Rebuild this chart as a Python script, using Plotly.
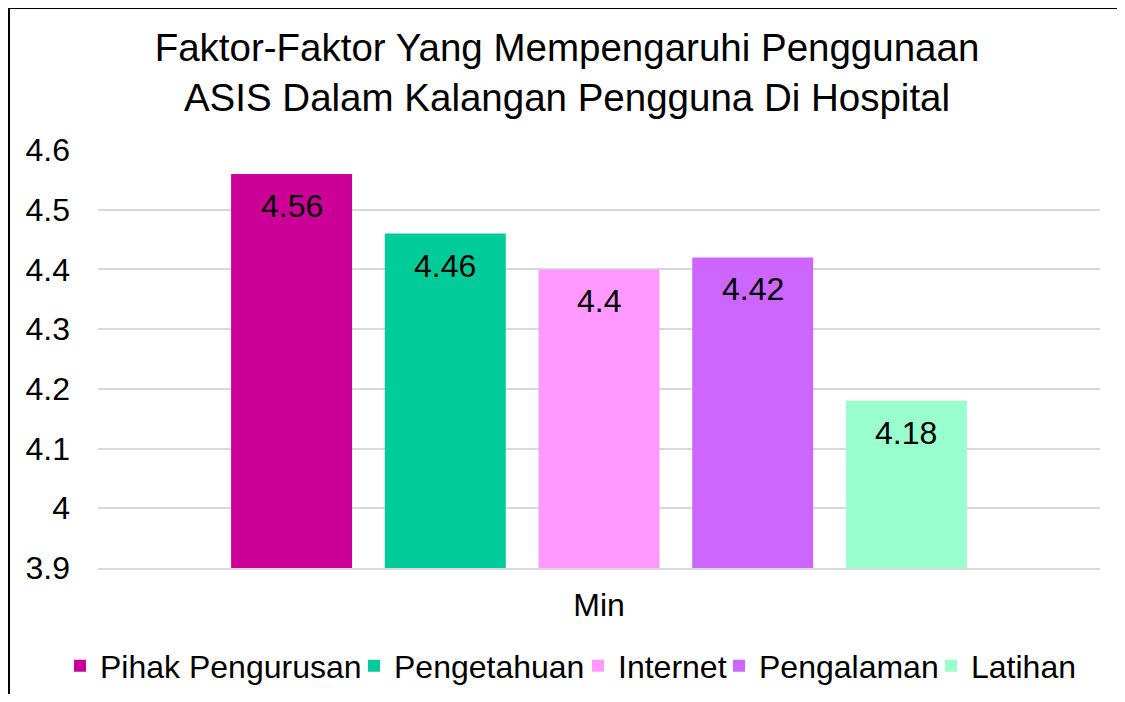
import plotly.graph_objects as go

category = ["Min"]
series_names = ["Pihak Pengurusan", "Pengetahuan", "Internet", "Pengalaman", "Latihan"]
series_values = [4.56, 4.46, 4.40, 4.42, 4.18]
series_colors = ["#CC0099", "#00CC99", "#FF99FF", "#CC66FF", "#99FFCC"]
y_ticks = [3.9, 4.0, 4.1, 4.2, 4.3, 4.4, 4.5, 4.6]
y_ticktext = ["3.9", "4", "4.1", "4.2", "4.3", "4.4", "4.5", "4.6"]

FONT = "Liberation Sans, Arial, sans-serif"
# the page has an 8px body margin on each side; the figure fills the rest of the window
W, H = 1109, 686
ML, MT = 90, 142
MR = W - 1092
MB = H - 560
bargap = 0.233
bargroupgap = 0.213
n = len(series_names)
SZ = 32

# left edges (figure px) of each legend entry, one legend per series
legend_left = [52, 346, 570, 711, 923]
legend_ids = ["legend"] + ["legend%d" % (i + 1) for i in range(1, n)]

fig = go.Figure()
for name, val, col, lid in zip(series_names, series_values, series_colors, legend_ids):
    fig.add_trace(go.Bar(name=name, x=category, y=[val], marker=dict(color=col, line=dict(width=0)),
                         hoverinfo="skip", legend=lid))

# data labels inside top of each bar
slot = (1 - bargap) / n
for i, val in enumerate(series_values):
    xc = -(1 - bargap) / 2 + (i + 0.5) * slot
    fig.add_annotation(x=xc, y=val, xref="x", yref="y", text=str(val), showarrow=False,
                       yshift=-32, yanchor="middle", font=dict(family=FONT, size=SZ, color="#000000"))

# chart-area border (only top and left edges are visible in the reference)
pw = W - ML - MR
ph = H - MT - MB
bx0 = (1 - ML) / pw
bx1 = (W + 20 - ML) / pw
by_top = (H - MB - 0.0) / ph
by_bot = (H - MB - (H + 20)) / ph
fig.add_shape(type="line", xref="paper", yref="paper", x0=bx0, x1=bx1, y0=by_top, y1=by_top,
              line=dict(color="#000000", width=2), layer="above")
fig.add_shape(type="line", xref="paper", yref="paper", x0=bx0, x1=bx0, y0=by_top, y1=by_bot,
              line=dict(color="#000000", width=2), layer="above")

legends = {}
for lid, lx in zip(legend_ids, legend_left):
    legends[lid] = dict(orientation="h", xref="container", yref="container", x=lx / W, xanchor="left",
                        y=(H - 658) / H, yanchor="middle", font=dict(family=FONT, size=SZ, color="#000000"),
                        itemwidth=30, bgcolor="rgba(0,0,0,0)")

fig.update_layout(
    width=W, height=H,
    margin=dict(l=ML, r=MR, t=MT, b=MB, autoexpand=False),
    paper_bgcolor="white", plot_bgcolor="white",
    barmode="group", bargap=bargap, bargroupgap=bargroupgap,
    font=dict(family=FONT, color="#000000"),
    title=dict(text="Faktor-Faktor Yang Mempengaruhi Penggunaan<br>ASIS Dalam Kalangan Pengguna Di Hospital",
               x=559 / W, xref="container", xanchor="center",
               y=1 - 53 / H, yref="container", yanchor="middle",
               font=dict(family=FONT, size=38.5, color="#000000")),
    xaxis=dict(showgrid=False, showline=True, linecolor="#D9D9D9", linewidth=1.5,
               tickfont=dict(family=FONT, size=SZ, color="#000000"), ticks="", ticklabelstandoff=8),
    yaxis=dict(range=[3.9, 4.6], tickvals=y_ticks, ticktext=y_ticktext, showgrid=True,
               gridcolor="#D9D9D9", gridwidth=1.5, zeroline=False, showline=False, ticks="",
               tickfont=dict(family=FONT, size=SZ, color="#000000"), ticklabelstandoff=27),
    showlegend=True,
    **legends,
)

fig.write_html("out.html")
